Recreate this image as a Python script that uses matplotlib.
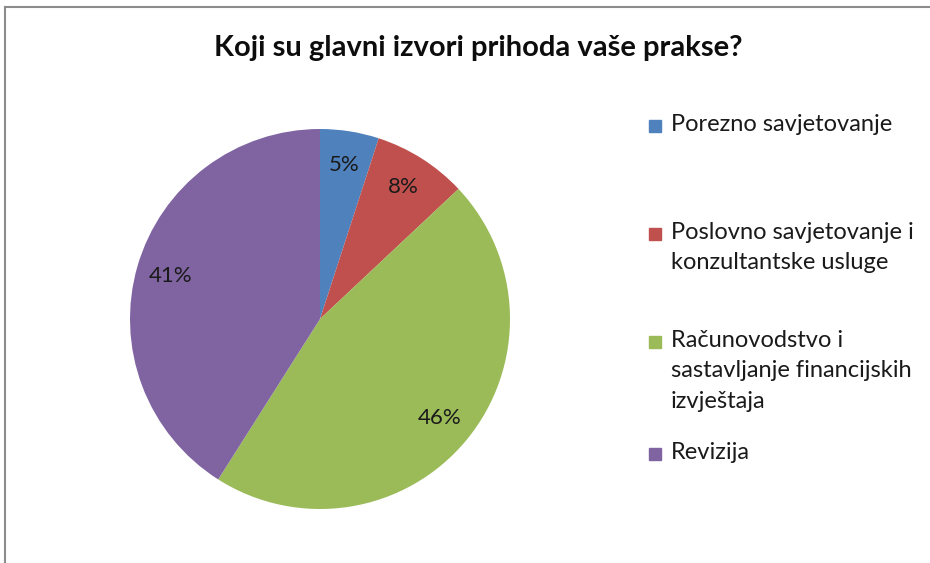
import matplotlib.pyplot as plt
from matplotlib.patches import Rectangle
from matplotlib.lines import Line2D

# data
labels = ['Porezno savjetovanje',
          'Poslovno savjetovanje i\nkonzultantske usluge',
          'Računovodstvo i\nsastavljanje financijskih\nizvještaja',
          'Revizija']
shares = [5, 8, 46, 41]
colors = ['#4F81BD', '#C0504D', '#9BBB59', '#8064A2']

plt.rcParams['font.family'] = ['Lato', 'DejaVu Sans']

W, H = 930, 563
fig = plt.figure(figsize=(W / 100, H / 100), dpi=100)

# pie centred at about (320, 319) px, radius 190 px
cx, cy, r = 320, 319, 190
ax = fig.add_axes([(cx - r) / W, (H - cy - r) / H, 2 * r / W, 2 * r / H])
ax.pie(shares, colors=colors, startangle=90, counterclock=False,
       autopct='%d%%', pctdistance=0.82,
       wedgeprops=dict(linewidth=0),
       textprops=dict(fontsize=16, color='#1a1a1a'))
ax.set_xlim(-1, 1)
ax.set_ylim(-1, 1)
ax.set_aspect('equal')

fig.text(478 / W, 1 - 48 / H, 'Koji su glavni izvori prihoda vaše prakse?',
         ha='center', va='center', fontsize=21, fontweight='bold',
         color='#0d0d0d')

# legend drawn by hand (uneven slots like the original)
baselines = [133, 241, 349, 461]
for lab, col, base in zip(labels, colors, baselines):
    fig.patches.append(Rectangle((649 / W, 1 - (base - 1) / H), 12 / W, 12 / H,
                                 transform=fig.transFigure, color=col))
    fig.text(671 / W, 1 - (base - 19) / H, lab, ha='left', va='top',
             fontsize=17, color='#1a1a1a', linespacing=1.55)

# chart frame (top and left edges visible)
fig.lines.append(Line2D([5 / W, 1], [1 - 7 / H, 1 - 7 / H],
                        transform=fig.transFigure, color='#8c8c8c', lw=1.5))
fig.lines.append(Line2D([5 / W, 5 / W], [0, 1 - 7 / H],
                        transform=fig.transFigure, color='#8c8c8c', lw=1.5))

fig.savefig('out.png', dpi=100)
